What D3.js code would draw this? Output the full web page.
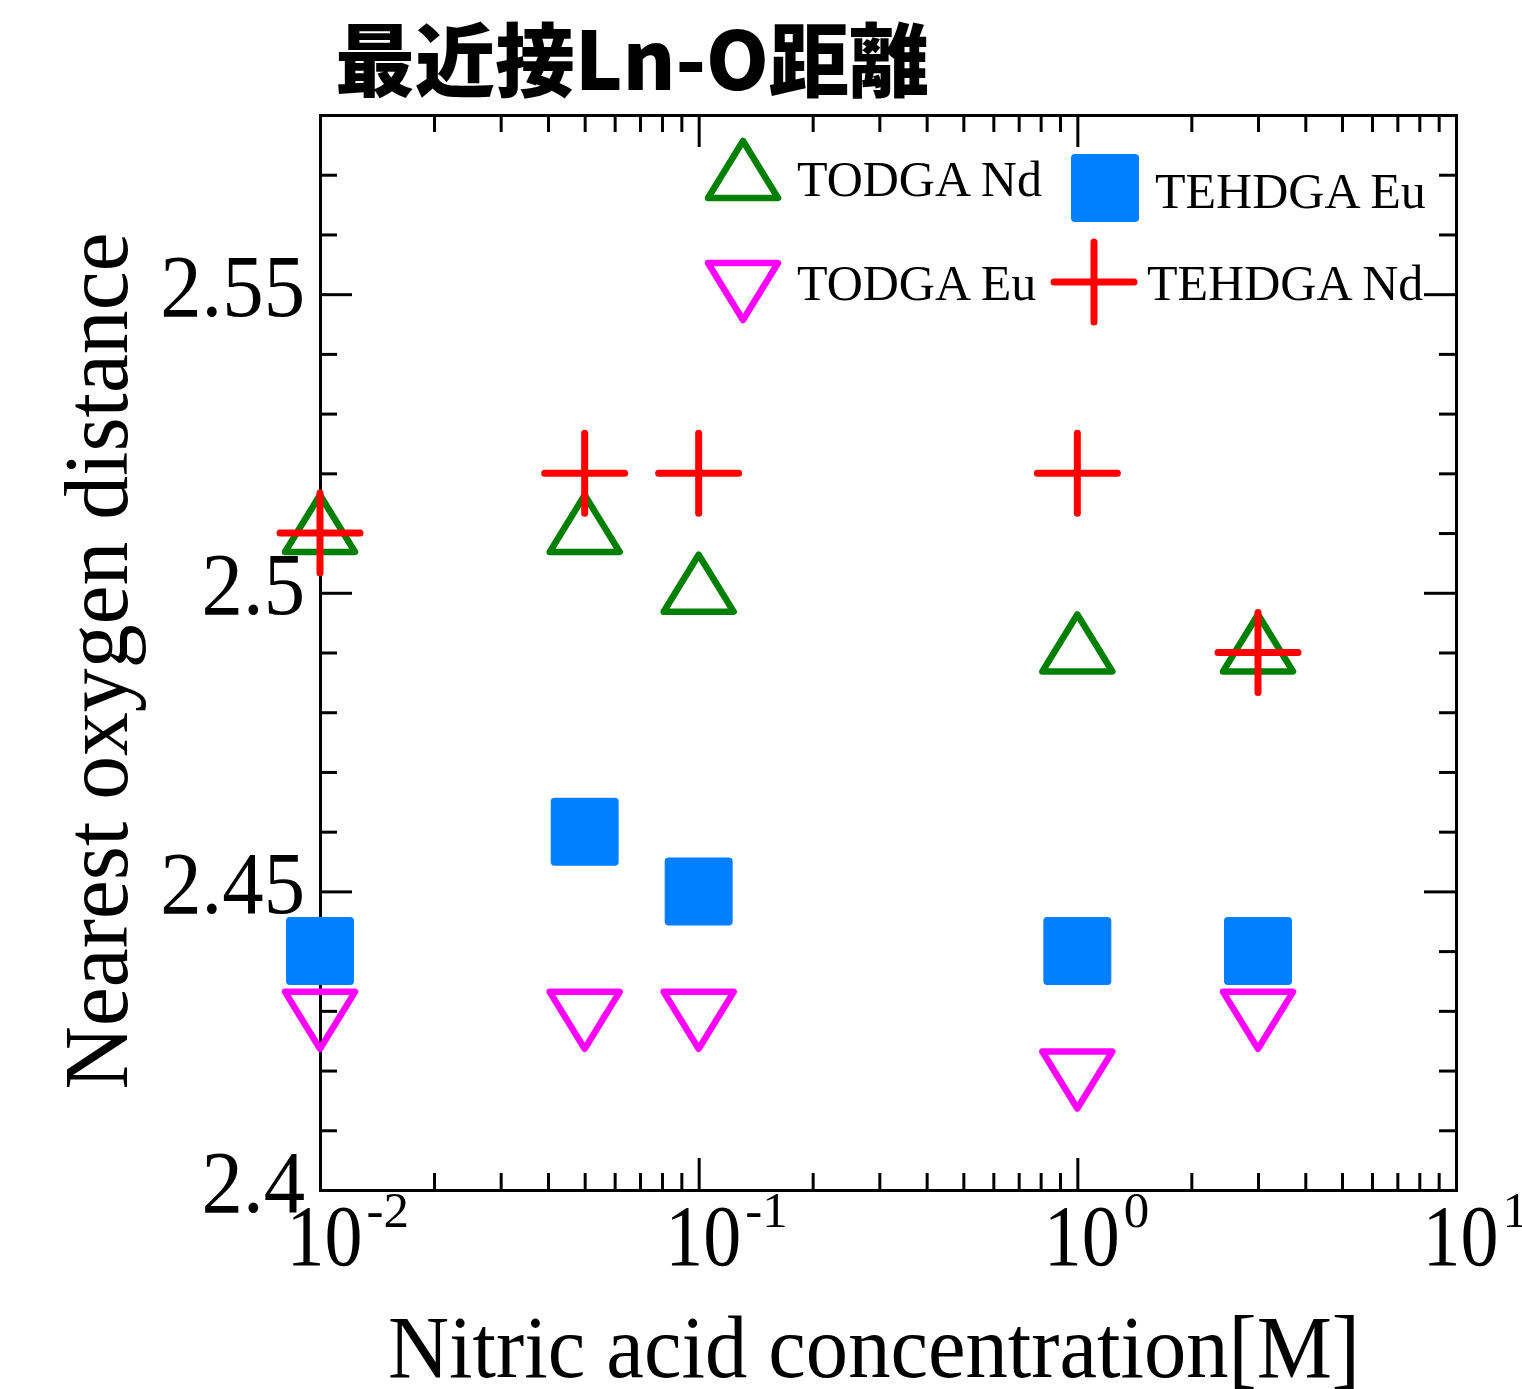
<!DOCTYPE html>
<html>
<head>
<meta charset="utf-8">
<script src="https://cdn.jsdelivr.net/npm/d3@7"></script>
<style>
  html, body { margin: 0; padding: 0; background: #fff; }
  svg { display: block; }
</style>
</head>
<body>
<svg id="chart" width="1522" height="1389"></svg>
<script>
// Nitric acid concentrations [M] at which each system was sampled
const concentrations = [0.01, 0.05, 0.1, 1, 3];

// Nearest Ln–O distances for each extractant / lanthanide pair
const todgaNd  = [2.51, 2.51, 2.50, 2.49, 2.49];
const todgaEu  = [2.43, 2.43, 2.43, 2.42, 2.43];
const tehdgaEu = [2.44, 2.46, 2.45, 2.44, 2.44];
const tehdgaNd = [2.51, 2.52, 2.52, 2.52, 2.49];

// Axis ticks and labels
const xDomain = [0.01, 10];
const yDomain = [2.4, 2.58];
const xMajorTicks = [0.01, 0.1, 1, 10];
const xMajorExponents = ["-2", "-1", "0", "1"];
const yMajorTicks = [2.4, 2.45, 2.5, 2.55];
const yMajorLabels = ["2.4", "2.45", "2.5", "2.55"];

const legendLabels = ["TODGA Nd", "TODGA Eu", "TEHDGA Eu", "TEHDGA Nd"];
const titleText = "最近接Ln-O距離";
const xTitle = "Nitric acid concentration[M]";
const yTitle = "Nearest oxygen distance";

// ---------------------------------------------------------------
(function () {
const svg = d3.select("#chart");
const plotL = 320, plotR = 1456, plotT = 115, plotB = 1190;
const serif = "'Liberation Serif', 'Times New Roman', serif";

const x = d3.scaleLog().domain(xDomain).range([plotL, plotR]);
const y = d3.scaleLinear().domain(yDomain).range([plotB, plotT]);

// minor ticks: 2..9 within each decade, and every 0.01 on y
const xMinorTicks = [];
for (let e = -2; e < 1; e++) for (let m = 2; m <= 9; m++) xMinorTicks.push(m * Math.pow(10, e));
const yMinorTicks = d3.range(0, 19).map(i => +(2.4 + i * 0.01).toFixed(2))
  .filter(v => !yMajorTicks.some(t => Math.abs(t - v) < 1e-9) && v < 2.58);

const MAJOR = 32, MINOR = 17, AXW = 3;

function styleAxis(g) {
  g.selectAll("path.domain").attr("stroke", "#000").attr("stroke-width", AXW).attr("stroke-linecap", "square");
  g.selectAll(".tick line").attr("stroke", "#000").attr("stroke-width", AXW);
}

// Bottom axis
const gBottom = svg.append("g").attr("transform", `translate(0,${plotB})`);
gBottom.append("g").call(d3.axisBottom(x).tickValues(xMinorTicks).tickSizeInner(-MINOR).tickSizeOuter(0).tickFormat(""))
  .call(styleAxis);
const gBottomMajor = gBottom.append("g")
  .call(d3.axisBottom(x).tickValues(xMajorTicks).tickSizeInner(-MAJOR).tickSizeOuter(0).tickFormat(""))
  .call(styleAxis);
gBottomMajor.select("path.domain").remove();
gBottomMajor.selectAll(".tick").each(function(d, i) {
  const t = d3.select(this);
  t.selectAll("text").remove();
  t.append("text")
    .attr("x", 4).attr("y", 75)
    .attr("text-anchor", "middle")
    .attr("font-family", serif).attr("font-size", 86)
    .attr("fill", "#000")
    .attr("textLength", 76).attr("lengthAdjust", "spacingAndGlyphs")
    .text("10");
  t.append("text")
    .attr("x", 46).attr("y", 37)
    .attr("text-anchor", "start")
    .attr("font-family", serif).attr("font-size", 51)
    .attr("fill", "#000")
    .text(xMajorExponents[i]);
});

// Top axis (ticks only)
const gTop = svg.append("g").attr("transform", `translate(0,${plotT})`);
gTop.append("g").call(d3.axisTop(x).tickValues(xMinorTicks).tickSizeInner(-MINOR).tickSizeOuter(0).tickFormat(""))
  .call(styleAxis);
gTop.append("g").call(d3.axisTop(x).tickValues(xMajorTicks).tickSizeInner(-MAJOR).tickSizeOuter(0).tickFormat(""))
  .call(styleAxis).select("path.domain").remove();

// Left axis
const gLeft = svg.append("g").attr("transform", `translate(${plotL},0)`);
gLeft.append("g").call(d3.axisLeft(y).tickValues(yMinorTicks).tickSizeInner(-MINOR).tickSizeOuter(0).tickFormat(""))
  .call(styleAxis);
const gLeftMajor = gLeft.append("g")
  .call(d3.axisLeft(y).tickValues(yMajorTicks).tickSizeInner(-MAJOR).tickSizeOuter(0)
    .tickFormat((d, i) => yMajorLabels[i]).tickPadding(15))
  .call(styleAxis);
gLeftMajor.select("path.domain").remove();
gLeftMajor.selectAll(".tick text")
  .attr("font-family", serif).attr("font-size", 88).attr("fill", "#000")
  .attr("x", -15).attr("dy", null).attr("y", 21)
  .attr("text-anchor", "end")
  .each(function() {
    const w = this.getComputedTextLength();
    d3.select(this).attr("textLength", w * 0.94).attr("lengthAdjust", "spacingAndGlyphs");
  });

// Right axis (ticks only)
const gRight = svg.append("g").attr("transform", `translate(${plotR},0)`);
gRight.append("g").call(d3.axisRight(y).tickValues(yMinorTicks).tickSizeInner(-MINOR).tickSizeOuter(0).tickFormat(""))
  .call(styleAxis);
gRight.append("g").call(d3.axisRight(y).tickValues(yMajorTicks).tickSizeInner(-MAJOR).tickSizeOuter(0).tickFormat(""))
  .call(styleAxis).select("path.domain").remove();

// Axis titles
svg.append("text")
  .attr("x", 874).attr("y", 1377)
  .attr("text-anchor", "middle")
  .attr("font-family", serif).attr("font-size", 89).attr("fill", "#000")
  .attr("textLength", 972).attr("lengthAdjust", "spacingAndGlyphs")
  .text(xTitle);

svg.append("text")
  .attr("transform", "translate(127,661) rotate(-90)")
  .attr("text-anchor", "middle")
  .attr("font-family", serif).attr("font-size", 91).attr("fill", "#000")
  .attr("textLength", 857).attr("lengthAdjust", "spacingAndGlyphs")
  .text(yTitle);

// Chart title
svg.append("text")
  .attr("x", 335).attr("y", 90)
  .attr("font-family", "'Noto Sans CJK JP', 'Noto Sans CJK SC', sans-serif")
  .attr("font-weight", 900).attr("font-size", 80).attr("fill", "#000")
  .text(titleText);

// ---------------------------------------------------------------
// Marker shapes (triangles centred on their centroid)
const TRI_W = 70, TRI_H = 57;
function triangle(up) {
  const s = up ? 1 : -1;
  return `M0,${-s * 2 * TRI_H / 3}L${TRI_W / 2},${s * TRI_H / 3}L${-TRI_W / 2},${s * TRI_H / 3}Z`;
}
const SQ = 68, PLUS = 40;

function drawTriangles(g, data, up, color) {
  g.selectAll(null).data(data).join("path")
    .attr("d", triangle(up))
    .attr("transform", d => `translate(${d[0]},${d[1]})`)
    .attr("fill", "none").attr("stroke", color)
    .attr("stroke-width", 6.5).attr("stroke-linejoin", "round");
}
function drawSquares(g, data, color) {
  g.selectAll(null).data(data).join("rect")
    .attr("x", d => d[0] - SQ / 2).attr("y", d => d[1] - SQ / 2)
    .attr("width", SQ).attr("height", SQ).attr("rx", 4)
    .attr("fill", color);
}
function drawPlus(g, data, color) {
  const p = g.selectAll(null).data(data).join("g")
    .attr("transform", d => `translate(${d[0]},${d[1]})`)
    .attr("stroke", color).attr("stroke-width", 7).attr("stroke-linecap", "round");
  p.append("line").attr("x1", -PLUS).attr("x2", PLUS).attr("y1", 0).attr("y2", 0);
  p.append("line").attr("x1", 0).attr("x2", 0).attr("y1", -PLUS).attr("y2", PLUS);
}

const pts = vals => concentrations.map((c, i) => [x(c), y(vals[i])]);

const GREEN = "#008000", MAGENTA = "#ff00ff", BLUE = "#0080ff", RED = "#ff0000";

const marks = svg.append("g");
drawTriangles(marks.append("g"), pts(todgaNd), true, GREEN);
drawTriangles(marks.append("g"), pts(todgaEu), false, MAGENTA);
drawSquares(marks.append("g"), pts(tehdgaEu), BLUE);
drawPlus(marks.append("g"), pts(tehdgaNd), RED);

// Legend
const legend = svg.append("g");
drawTriangles(legend.append("g"), [[743, 179]], true, GREEN);
drawTriangles(legend.append("g"), [[743, 282]], false, MAGENTA);
drawSquares(legend.append("g"), [[1105, 188]], BLUE);
drawPlus(legend.append("g"), [[1094, 282]], RED);

const legendText = [[797, 196], [797, 300], [1155, 208], [1147, 300]];
legend.selectAll("text.lbl").data(legendLabels).join("text")
  .attr("class", "lbl")
  .attr("x", (d, i) => legendText[i][0]).attr("y", (d, i) => legendText[i][1])
  .attr("font-family", serif).attr("font-size", 50).attr("fill", "#000")
  .text(d => d);
})();
</script>
</body>
</html>
